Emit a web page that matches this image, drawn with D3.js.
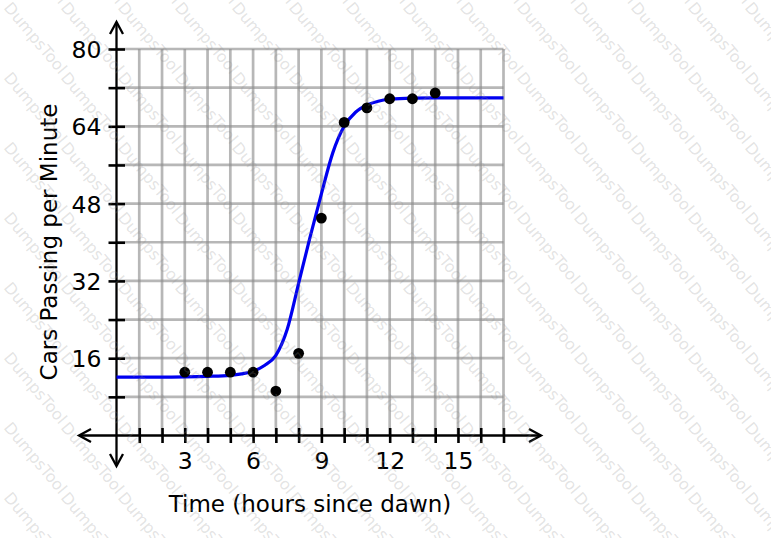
<!DOCTYPE html>
<html>
<head>
<meta charset="utf-8">
<script src="https://cdn.jsdelivr.net/npm/d3@7"></script>
<style>
  html, body { margin: 0; padding: 0; background: #fff; }
  svg { display: block; }
  text { font-family: "DejaVu Sans", sans-serif; }
</style>
</head>
<body>
<svg id="chart" width="771" height="538"></svg>
<script>
// ---- data ----
const obsHours = [3, 4, 5, 6, 7, 8, 9, 10, 11, 12, 13, 14];
const obsCars  = [13.1, 13.1, 13.1, 13.1, 9.2, 17.0, 45.0, 64.8, 67.8, 69.7, 69.7, 70.9];

const fitHours = [0, 1, 2, 3, 4, 5, 5.5, 6, 6.5, 7, 7.5, 8, 8.5, 9, 9.5, 10, 10.5, 11, 11.5, 12, 13, 14, 15, 16, 17];
const fitCars  = [12.1, 12.1, 12.1, 12.15, 12.25, 12.45, 12.75, 13.3, 14.5, 16.6, 22.0, 31.5, 41.0, 50.0, 58.5, 64.0, 66.9, 68.4, 69.2, 69.6, 69.85, 69.9, 69.9, 69.9, 69.9];

const xTickValues = d3.range(1, 18);
const xTickLabels = [3, 6, 9, 12, 15];
const yTickValues = [8, 16, 24, 32, 40, 48, 56, 64, 72, 80];
const yTickLabels = [16, 32, 48, 64, 80];

const xTitle = "Time (hours since dawn)";
const yTitle = "Cars Passing per Minute";
const watermark = "DumpsTool";

// ---- drawing ----
const svg = d3.select("#chart");
const x = d3.scaleLinear().domain([0, 17]).range([116.5, 503.5]);
const y = d3.scaleLinear().domain([0, 80]).range([435.5, 49]);

// grid
const grid = svg.append("g").attr("stroke", "#8a8a8a").attr("stroke-opacity", 0.62).attr("stroke-width", 2.7);
grid.selectAll("line.v").data(xTickValues).join("line")
  .attr("x1", d => x(d)).attr("x2", d => x(d))
  .attr("y1", y(0)).attr("y2", y(80));
grid.selectAll("line.h").data(yTickValues).join("line")
  .attr("x1", x(0)).attr("x2", x(17))
  .attr("y1", d => y(d)).attr("y2", d => y(d));

// x axis ticks + labels
const xAxis = d3.axisBottom(x).tickValues(xTickValues).tickSize(7.5)
  .tickFormat(d => xTickLabels.includes(d) ? String(d) : "");
const gx = svg.append("g").attr("transform", `translate(0,${y(0)})`).call(xAxis);
gx.select(".domain").remove();
gx.selectAll(".tick line").attr("y1", -7.5).attr("y2", 7.5).attr("stroke", "#000").attr("stroke-width", 2.6);
gx.selectAll(".tick text").attr("y", 33).attr("dy", 0).attr("font-size", 23.5)
  .attr("font-family", "DejaVu Sans, sans-serif").attr("fill", "#000");

// y axis ticks + labels
const yAxis = d3.axisLeft(y).tickValues(yTickValues).tickSize(8)
  .tickFormat(d => yTickLabels.includes(d) ? String(d) : "");
const gy = svg.append("g").attr("transform", `translate(${x(0)},0)`).call(yAxis);
gy.select(".domain").remove();
gy.selectAll(".tick line").attr("x1", -8).attr("x2", 8.5).attr("stroke", "#000").attr("stroke-width", 2.6);
gy.selectAll(".tick text").attr("x", -15).attr("dy", "0.36em").attr("font-size", 23.5)
  .attr("font-family", "DejaVu Sans, sans-serif").attr("fill", "#000");

// axis lines with open arrowheads
const ax = svg.append("g").attr("stroke", "#000").attr("stroke-width", 2.3).attr("fill", "none");
const x0 = x(0), y0 = y(0);
const xl = 79, xr = 541, yt = 22, yb = 466;
ax.append("line").attr("x1", xl).attr("x2", xr).attr("y1", y0).attr("y2", y0);
ax.append("line").attr("x1", x0).attr("x2", x0).attr("y1", yt).attr("y2", yb);
ax.append("path").attr("d", `M${xl + 12},${y0 - 6.5}L${xl},${y0}L${xl + 12},${y0 + 6.5}`);
ax.append("path").attr("d", `M${xr - 12},${y0 - 6.5}L${xr},${y0}L${xr - 12},${y0 + 6.5}`);
ax.append("path").attr("d", `M${x0 - 6.5},${yt + 12}L${x0},${yt}L${x0 + 6.5},${yt + 12}`);
ax.append("path").attr("d", `M${x0 - 6.5},${yb - 12}L${x0},${yb}L${x0 + 6.5},${yb - 12}`);

// fitted curve
const fit = fitHours.map((h, i) => [h, fitCars[i]]);
svg.append("path").datum(fit)
  .attr("fill", "none").attr("stroke", "#0000f0").attr("stroke-width", 3.2)
  .attr("d", d3.line().x(d => x(d[0])).y(d => y(d[1])).curve(d3.curveMonotoneX));

// observations
svg.append("g").selectAll("circle").data(obsHours.map((h, i) => [h, obsCars[i]])).join("circle")
  .attr("cx", d => x(d[0])).attr("cy", d => y(d[1])).attr("r", 5.4).attr("fill", "#000");

// titles
svg.append("text").attr("x", 310).attr("y", 512).attr("text-anchor", "middle")
  .attr("font-size", 23).attr("fill", "#000").text(xTitle);
svg.append("text").attr("transform", "translate(57,242) rotate(-90)").attr("text-anchor", "middle")
  .attr("font-size", 23).attr("fill", "#000").text(yTitle);

// watermark overlay, tiled across the picture like the reference
const wm = svg.append("g").attr("fill", "#8a8a8a").attr("fill-opacity", 0.24).attr("pointer-events", "none");
const ang = 50 * Math.PI / 180, wmLen = 88;
const wmPos = [];
for (let r = -8; r < 9; r++) {
  for (let c = -4; c < 15; c++) {
    const px = c * 57 + 3, py = r * 70 + 8;
    const ex = px + wmLen * Math.cos(ang), ey = py + wmLen * Math.sin(ang);
    // keep only strings that show at least partly inside the picture
    const visible = Math.max(px, ex) > 4 && Math.min(px, ex) < 767 && Math.max(py, ey) > 4 && Math.min(py, ey) < 534;
    if (visible) wmPos.push([px, py]);
  }
}
wm.selectAll("text").data(wmPos).join("text")
  .attr("transform", d => `translate(${d[0]},${d[1]}) rotate(50)`)
  .attr("font-size", 16).attr("font-family", "DejaVu Sans, sans-serif")
  .text(watermark);
</script>
</body>
</html>
